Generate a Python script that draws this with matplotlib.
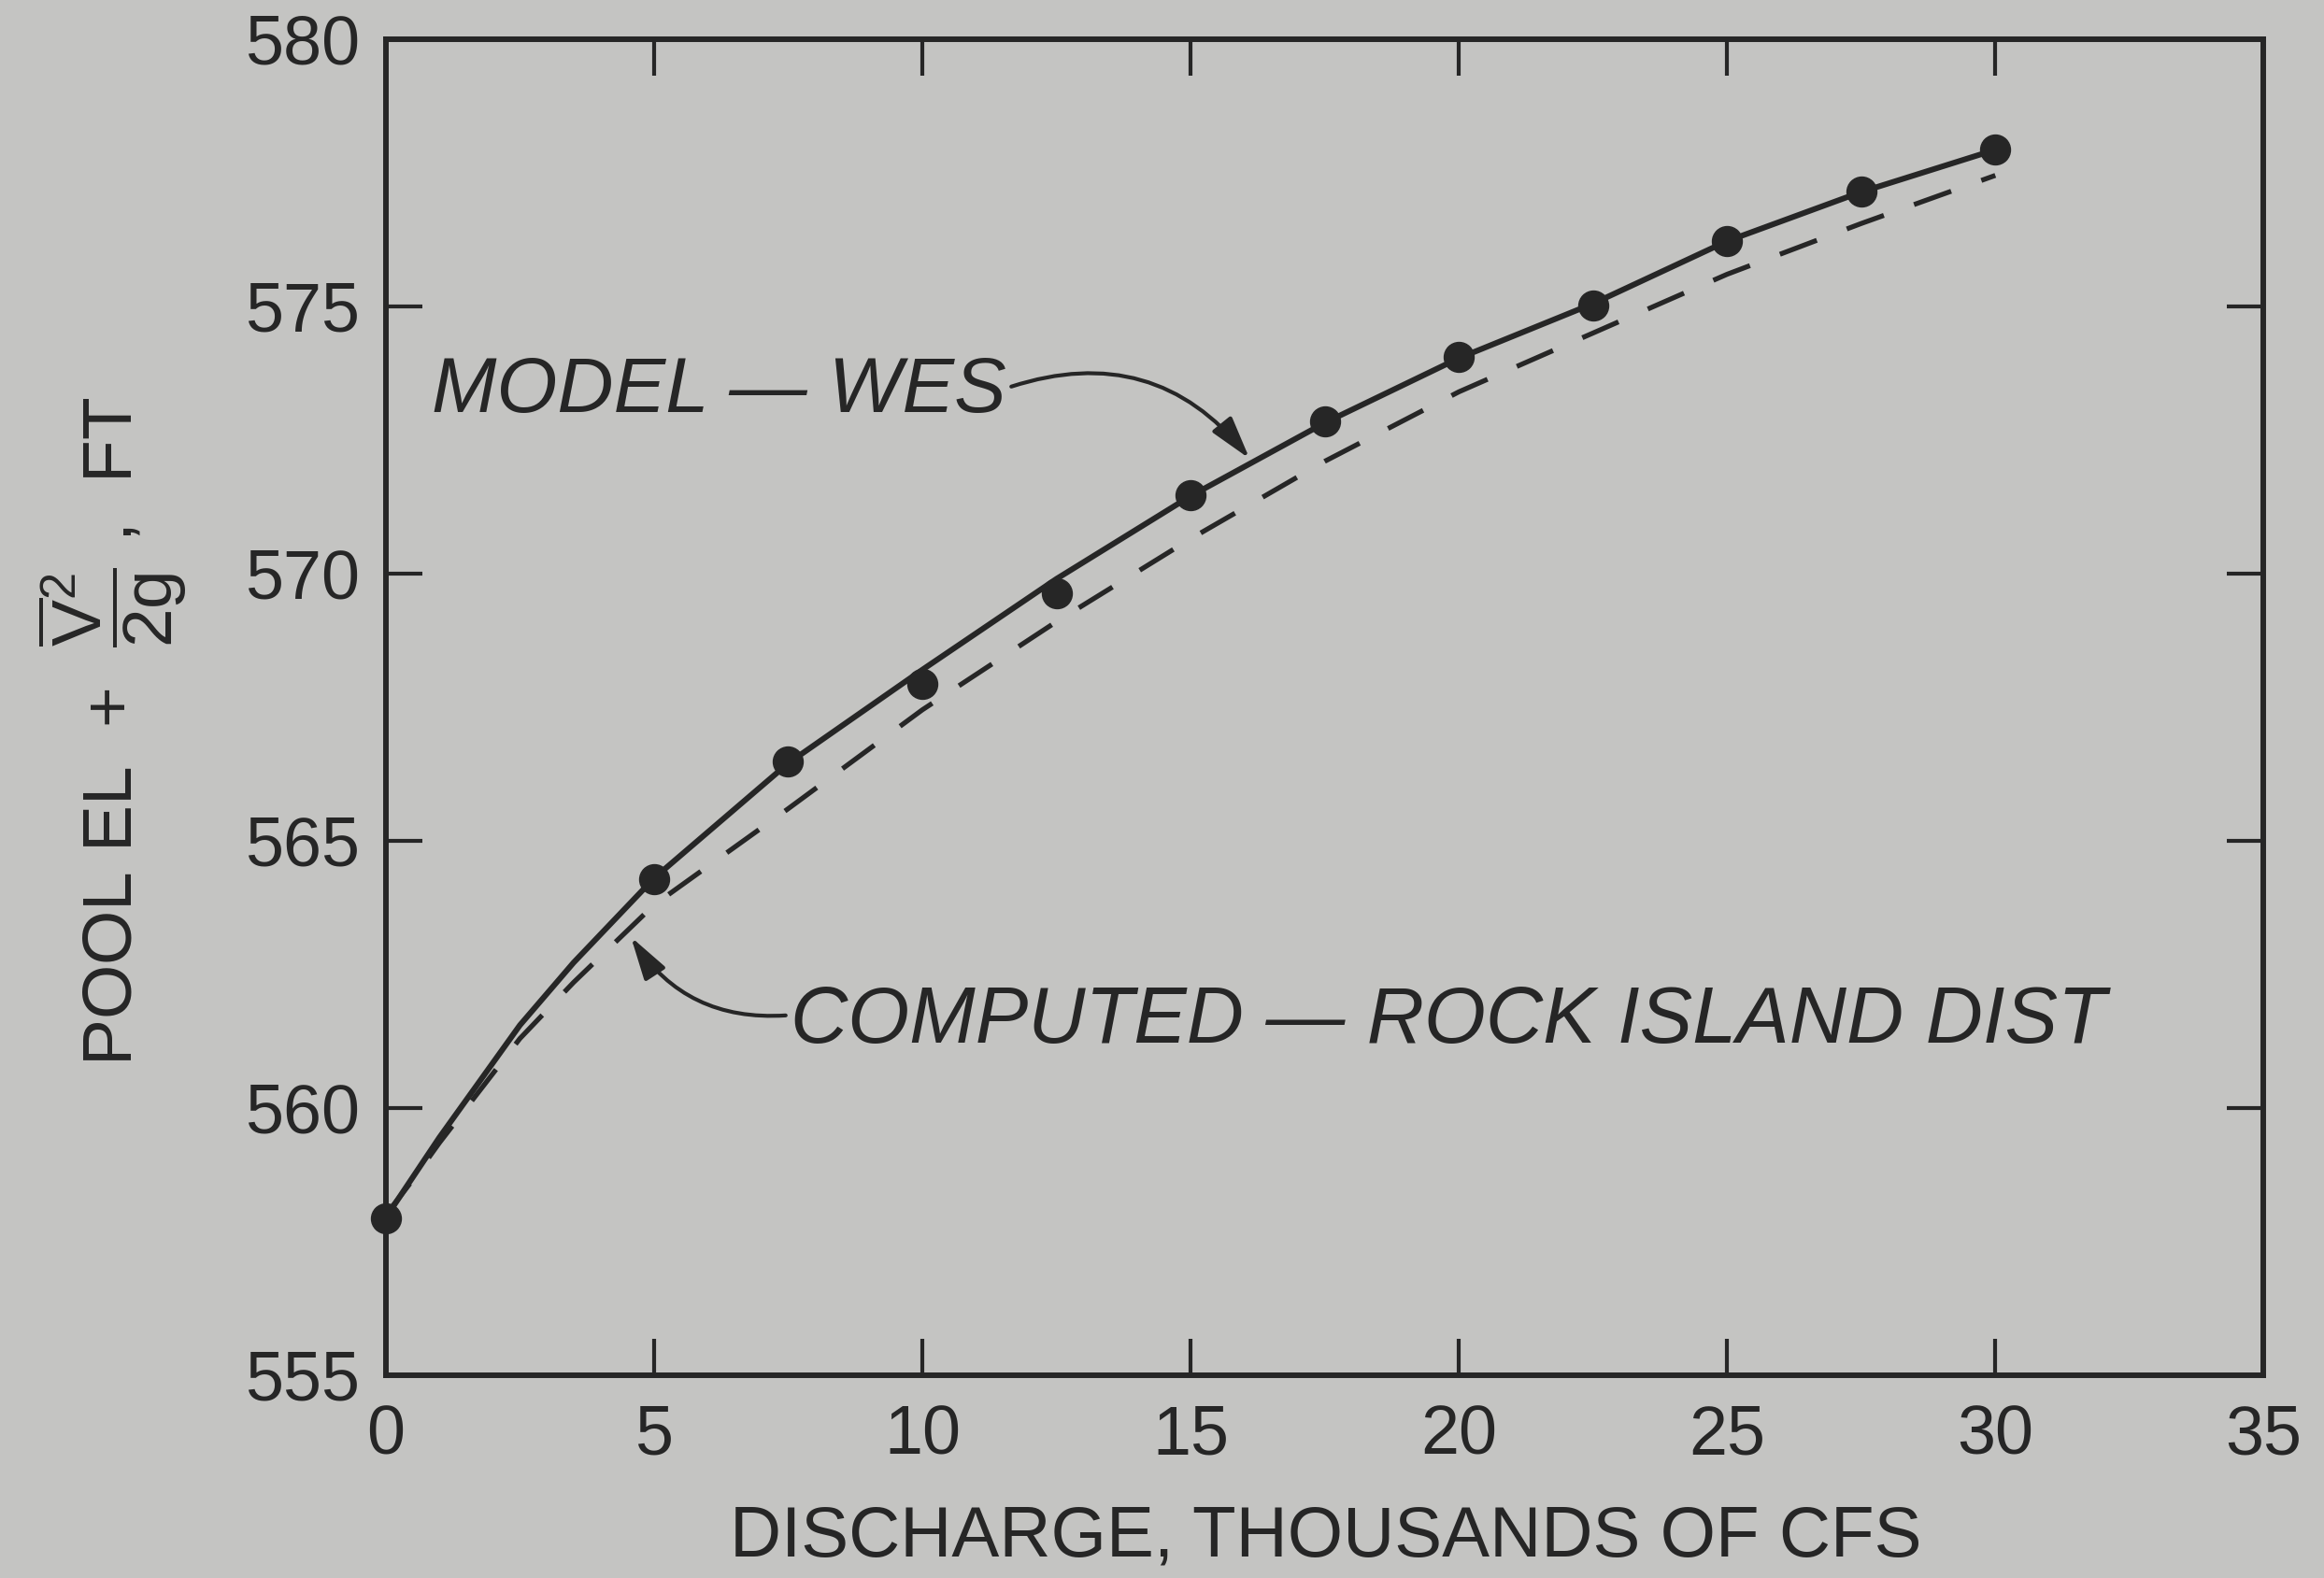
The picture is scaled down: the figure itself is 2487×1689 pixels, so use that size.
import numpy as np
import matplotlib
matplotlib.use('Agg')
import matplotlib.pyplot as plt

# discharge in thousands of cfs
discharge = [0, 0.5, 1, 1.5, 2.5, 3.5, 5, 7.5, 10, 12.5, 15, 17.5, 20, 22.5,
             25, 27.5, 30]
# WES model curve
model_curve = [557.95, 558.7, 559.45, 560.15, 561.55, 562.72, 564.3, 566.45,
               568.2, 569.9, 571.45, 572.82, 574.03, 575.05, 576.22, 577.14,
               577.93]
# Rock Island District computed curve
computed_curve = [558.0, 558.65, 559.35, 560.0, 561.3, 562.35, 563.8, 565.6,
                  567.45, 569.1, 570.65, 572.1, 573.4, 574.5, 575.6, 576.55,
                  577.45]

# measured model points
pts_q = [0, 5, 7.5, 10, 12.5, 15, 17.5, 20, 22.5, 25, 27.5, 30]
pts_el = [557.93, 564.29, 566.48, 567.94, 569.63, 571.47, 572.84, 574.05,
          575.02, 576.22, 577.15, 577.94]

x_ticks = [0, 5, 10, 15, 20, 25, 30, 35]
y_ticks = [555, 560, 565, 570, 575, 580]

ink = '#262626'
bg = '#c4c4c2'

plt.rcParams['font.family'] = ['Liberation Sans', 'DejaVu Sans']
plt.rcParams['mathtext.fontset'] = 'custom'
plt.rcParams['mathtext.rm'] = 'Liberation Sans'
plt.rcParams['mathtext.it'] = 'Liberation Sans'
plt.rcParams['mathtext.bf'] = 'Liberation Sans:bold'

fig = plt.figure(figsize=(24.87, 16.89), dpi=100, facecolor=bg)
ax = fig.add_axes([0.166, 0.1285, 0.808, 0.8467], facecolor=bg)

ax.plot(discharge, model_curve, '-', color=ink, lw=4.4, zorder=3)
ax.plot(discharge, computed_curve, color=ink, lw=3.8, dashes=(8, 6.5), zorder=2)
ax.plot(pts_q, pts_el, 'o', color=ink, ms=23, zorder=4, clip_on=False)

ax.set_xlim(0, 35)
ax.set_ylim(555, 580)
ax.set_xticks(x_ticks)
ax.set_yticks(y_ticks)

for s in ax.spines.values():
    s.set_linewidth(4.3)
    s.set_color(ink)
ax.tick_params(direction='in', length=28, width=3, color=ink, labelcolor=ink,
               labelsize=53, top=True, right=True)
ax.tick_params(axis='x', pad=22)
ax.tick_params(axis='y', pad=20)

ax.set_xlabel('DISCHARGE, THOUSANDS OF CFS', fontsize=55, color=ink, va='top')
ax.xaxis.set_label_coords(0.5007, -0.097)

fig.text(0.0571, 0.5364, r'POOL EL  +  $\dfrac{\overline{V}^2}{2g}$ ,  FT', rotation=90,
         rotation_mode='anchor', ha='center', va='baseline', fontsize=54, color=ink)

# curve labels with arrows
arrow_kw = dict(arrowstyle='-|>,head_length=0.7,head_width=0.2', color=ink, lw=3,
                mutation_scale=40, shrinkB=0)

t_model = ax.text(0.86, 573.4, 'MODEL — WES', fontsize=60, style='italic',
                  color=ink, ha='left', va='center')
ax.annotate('', xy=(16.1, 572.15), xytext=(1.0, 0.55), textcoords=t_model,
            arrowprops=dict(connectionstyle='arc3,rad=-0.35', shrinkA=4, **arrow_kw))

t_comp = ax.text(7.55, 561.6, 'COMPUTED — ROCK ISLAND DIST', fontsize=61,
                 style='italic', color=ink, ha='left', va='center')
ax.annotate('', xy=(4.57, 563.2), xytext=(0.0, 0.6), textcoords=t_comp,
            arrowprops=dict(connectionstyle='arc3,rad=-0.3', shrinkA=4, **arrow_kw))

fig.savefig('out.png', dpi=100, facecolor=bg)
